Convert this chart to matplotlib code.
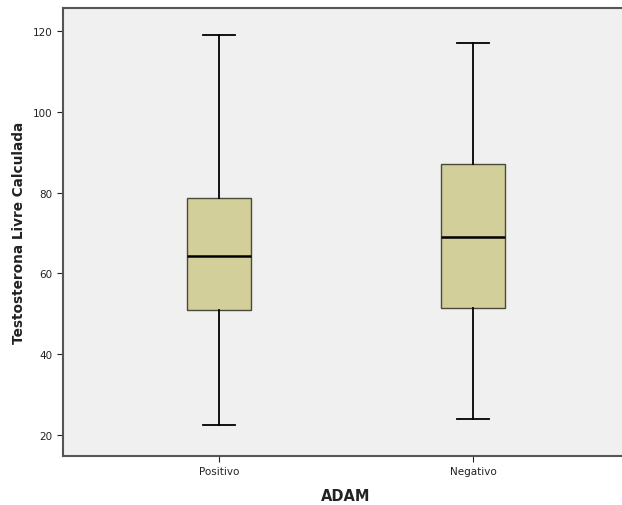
import matplotlib
matplotlib.use('Agg')
import matplotlib.pyplot as plt

# Boxplot summary
groups = ['Positivo', 'Negativo']
whislo = [22.5, 24.0]
q1 = [51.0, 51.5]
med = [64.4, 69.1]
q3 = [78.6, 87.0]
whishi = [119.0, 117.0]

stats = []
for i in range(len(groups)):
    stats.append({'label': groups[i], 'whislo': whislo[i], 'q1': q1[i],
                  'med': med[i], 'q3': q3[i], 'whishi': whishi[i], 'fliers': []})

fig = plt.figure(figsize=(6.22, 5.06), dpi=100)
ax = fig.add_axes([63 / 622, 1 - 457 / 506, (629 - 63) / 622, (457 - 9) / 506])
ax.set_facecolor('#f0f0f0')

ax.bxp(stats, positions=[1, 2], widths=0.252, patch_artist=True,
       boxprops=dict(facecolor='#d3cf9a', edgecolor='#4a4a3a', linewidth=1.0),
       medianprops=dict(color='black', linewidth=1.8),
       whiskerprops=dict(color='black', linewidth=1.3),
       capprops=dict(color='black', linewidth=1.3),
       capwidths=0.126)

ax.set_xlim(0.386, 2.614)
ax.set_ylim(14.8, 125.7)
ax.set_yticks([20, 40, 60, 80, 100, 120])
ax.tick_params(labelsize=7.5, length=4, width=0.8, colors='#222222')

for s in ax.spines.values():
    s.set_color('#555555')
    s.set_linewidth(1.5)

ax.set_xlabel('ADAM', fontsize=10.5, fontweight='bold', color='#222222', labelpad=8)
ax.set_ylabel('Testosterona Livre Calculada', fontsize=9.8, fontweight='bold',
              color='#222222', labelpad=5)

fig.savefig('out.png', dpi=100, facecolor='white')
